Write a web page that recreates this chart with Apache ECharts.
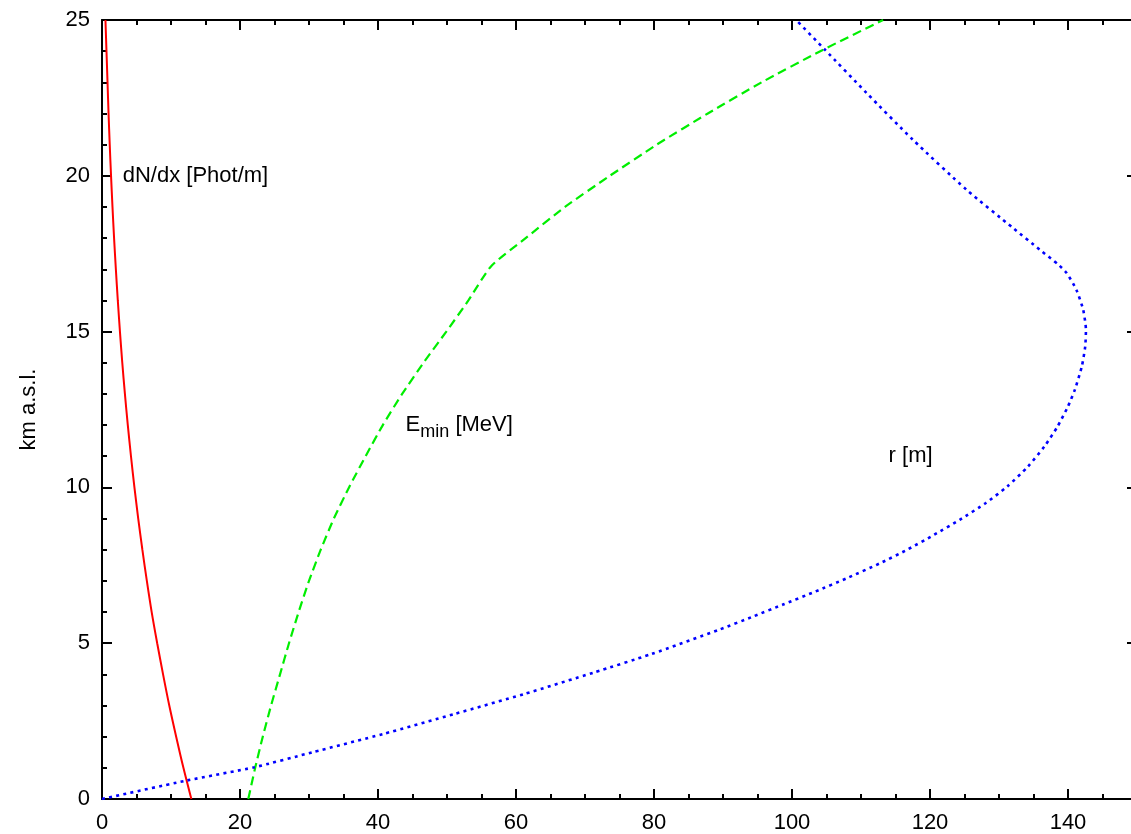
<!DOCTYPE html>
<html>
<head>
<meta charset="utf-8">
<title>Cherenkov emission vs. altitude</title>
<script src="https://cdn.jsdelivr.net/npm/echarts@6/dist/echarts.min.js"></script>
<style>
  html, body { margin: 0; padding: 0; background: #ffffff; }
  #chart { width: 1131px; height: 834px; }
</style>
</head>
<body>
<div id="chart"></div>
<script>
// Photon yield dN/dx [Phot/m] versus altitude [km a.s.l.]
const dndxAlt = [0, 1, 2, 3, 4, 5, 6, 7, 8, 9, 10, 11, 12, 13, 14, 15, 16, 17, 18, 19, 20, 21, 22, 23, 24, 25];
const dndxVal = [12.95, 11.8, 10.75, 9.75, 8.85, 8.0, 7.2, 6.5, 5.85, 5.25, 4.7, 4.2, 3.74, 3.32, 2.94, 2.6, 2.29, 2.01, 1.75, 1.52, 1.31, 1.12, 0.95, 0.8, 0.65, 0.5];

// Threshold energy E_min [MeV] versus altitude
const eminAlt = [0, 1, 2, 3, 4, 5, 6, 7, 8, 9, 10, 11, 12, 13, 14, 15, 16, 17.1, 18, 19, 20, 21, 22, 23, 24, 25];
const eminVal = [21.2, 22.2, 23.3, 24.5, 25.8, 27.1, 28.5, 30.0, 31.7, 33.6, 35.8, 38.2, 40.7, 43.5, 46.6, 49.9, 53.1, 56.4, 61.4, 67.1, 73.6, 80.4, 87.8, 95.6, 104.1, 113.2];

// Cherenkov ring radius r [m] versus altitude
const radiusAlt = [0, 0.59, 1.02, 1.5, 2.09, 2.73, 3.37, 4.06, 4.65, 5.43, 5.86, 6.24, 6.66, 7.09, 7.57, 8.0, 8.48, 8.96, 9.5, 10.03, 10.67, 11.32, 11.96, 12.6, 13.14, 13.88, 14.53, 15.06, 15.7, 16.35, 16.88, 17.15, 17.63, 18.33, 19.55, 21.16, 22.66, 24.04, 25];
const radiusVal = [0, 12.2, 22.1, 30.5, 40.8, 51.1, 61.2, 71.3, 79.6, 89.4, 94.4, 98.7, 103.4, 108.0, 112.8, 116.7, 120.6, 124.3, 128.1, 131.2, 134.2, 136.6, 138.5, 140.0, 141.0, 142.0, 142.5, 142.6, 142.2, 141.2, 139.8, 138.6, 135.9, 132.0, 125.3, 117.5, 110.8, 104.8, 100.6];

// Axis ranges and steps
const xRange = [0, 160];
const xStep = 20;
const yRange = [0, 25];
const yStep = 5;

const FONT = '"Liberation Sans", Arial, Helvetica, sans-serif';
const INK = '#000000';

function pairs(values, altitudes) {
  return values.map((v, i) => [v, altitudes[i]]);
}

const tickStyle = { color: INK, width: 2 };

function xAxisDef(position, showLabels) {
  return {
    type: 'value',
    position: position,
    min: xRange[0],
    max: xRange[1],
    interval: xStep,
    axisLine: { show: true, onZero: false, lineStyle: { color: INK, width: 2 } },
    axisTick: { show: true, inside: true, length: 10, lineStyle: tickStyle },
    minorTick: { show: true, splitNumber: 4, length: 5, lineStyle: tickStyle },
    axisLabel: {
      show: showLabels, color: INK, fontSize: 22, fontFamily: FONT, margin: 13
    },
    splitLine: { show: false },
    minorSplitLine: { show: false }
  };
}

function yAxisDef(position, showLabels, extra) {
  return Object.assign({
    type: 'value',
    position: position,
    min: yRange[0],
    max: yRange[1],
    interval: yStep,
    axisLine: { show: true, onZero: false, lineStyle: { color: INK, width: 2 } },
    axisTick: { show: true, inside: true, length: 10, lineStyle: tickStyle },
    minorTick: { show: true, splitNumber: 5, length: 5, lineStyle: tickStyle },
    axisLabel: {
      show: showLabels, color: INK, fontSize: 22, fontFamily: FONT, margin: 12
    },
    splitLine: { show: false },
    minorSplitLine: { show: false }
  }, extra || {});
}

// Curve captions, anchored at their left end in data coordinates
const captions = [
  { at: [3, 20], text: 'dN/dx [Phot/m]' },
  { at: [44, 12], text: '{e|E}{s|min}{e| [MeV]}' },
  { at: [114, 11], text: 'r [m]' }
];

const chart = echarts.init(document.getElementById('chart'), null, { renderer: 'canvas' });

chart.setOption({
  backgroundColor: '#ffffff',
  animation: false,
  grid: {
    left: 102,
    top: 20,
    bottom: 35,
    right: -75,
    containLabel: false,
    outerBoundsMode: 'none'
  },
  xAxis: [xAxisDef('bottom', true), xAxisDef('top', false)],
  yAxis: [
    yAxisDef('left', true, {
      name: 'km a.s.l.',
      nameLocation: 'middle',
      nameGap: 62,
      nameRotate: 90,
      nameTextStyle: { color: INK, fontSize: 22, fontFamily: FONT }
    }),
    yAxisDef('right', false, { offset: -69 })
  ],
  series: [
    {
      name: 'dN/dx',
      type: 'line',
      data: pairs(dndxVal, dndxAlt),
      showSymbol: false,
      smooth: 0.3,
      clip: true,
      lineStyle: { color: '#ff0000', width: 2, type: 'solid' },
      z: 3
    },
    {
      name: 'E_min',
      type: 'line',
      data: pairs(eminVal, eminAlt),
      showSymbol: false,
      smooth: 0.2,
      clip: true,
      lineStyle: { color: '#00ee00', width: 2.2, type: [9, 5] },
      z: 3
    },
    {
      name: 'r',
      type: 'line',
      data: pairs(radiusVal, radiusAlt),
      showSymbol: false,
      smooth: 0.2,
      clip: true,
      lineStyle: { color: '#0000ff', width: 2.6, type: [3, 4.3] },
      z: 3
    },
    {
      name: 'captions',
      type: 'scatter',
      symbolSize: 0,
      silent: true,
      itemStyle: { opacity: 1, color: INK },
      data: captions.map(c => ({ value: c.at, caption: c.text })),
      label: {
        show: true,
        opacity: 1,
        position: 'right',
        distance: 0,
        align: 'left',
        verticalAlign: 'middle',
        color: INK,
        fontSize: 22,
        fontFamily: FONT,
        formatter: p => p.data.caption,
        rich: {
          e: { fontSize: 22, fontFamily: FONT, color: INK },
          s: { fontSize: 18, fontFamily: FONT, color: INK, padding: [13, 0, 0, 0] }
        }
      },
      z: 5
    }
  ]
});
</script>
</body>
</html>
